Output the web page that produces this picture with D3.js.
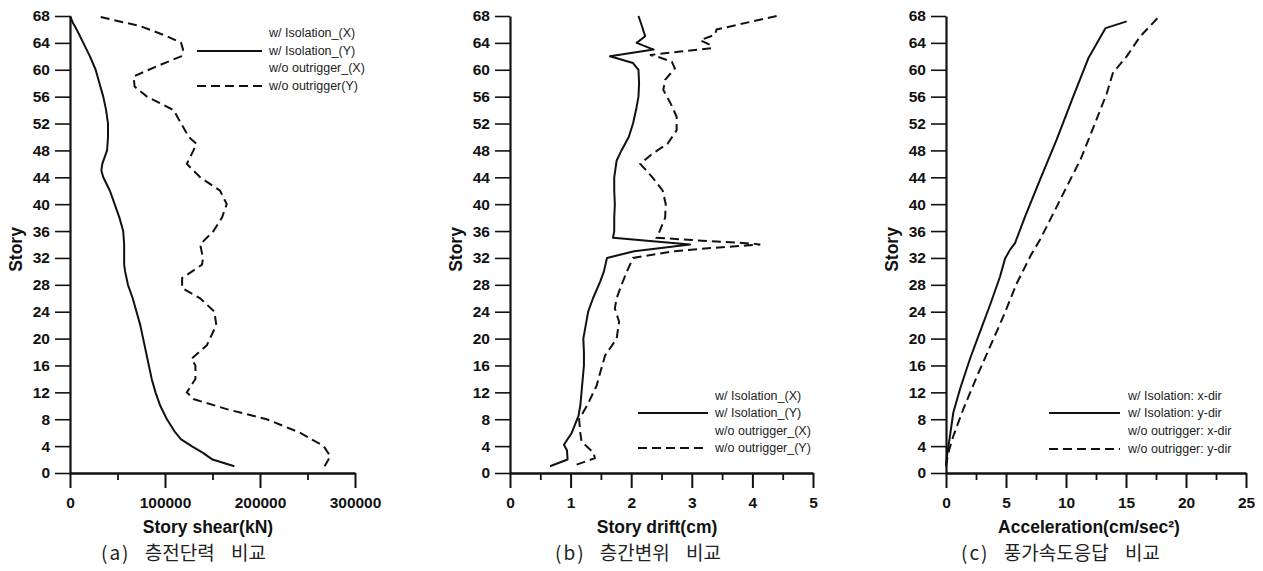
<!DOCTYPE html>
<html>
<head>
<meta charset="utf-8">
<script src="https://cdn.jsdelivr.net/npm/d3@7"></script>
<style>
  html, body { margin: 0; padding: 0; background: #fff; }
  svg { display: block; }
</style>
</head>
<body>
<svg id="chart" width="1263" height="571"></svg>
<script>
// ---------------- DATA ----------------
const storyTicks = [0,4,8,12,16,20,24,28,32,36,40,44,48,52,56,60,64,68];

// (a) Story shear (kN): [story, value]
const shearIsolationY = [[1,173000],[2,150000],[3,140000],[4,128000],[5,117000],[6,111000],[8,102000],[10,95000],[12,90000],[14,86000],[16,83000],[18,80000],[20,77000],[22,74000],[24,70000],[26,66000],[28,61000],[30,58000],[31,57000],[32,57000],[34,57000],[36,56000],[38,52000],[40,47000],[42,42000],[44,35000],[45,33000],[46,34000],[48,39000],[50,40000],[52,40000],[54,38000],[56,35000],[58,31000],[60,27000],[62,21000],[64,14000],[66,7000],[67,3000],[68,0]];
const shearNoOutriggerY = [[1,268000],[2.5,274000],[4,267000],[6,242000],[8,207000],[9.5,165000],[11,130000],[12,123000],[14,132000],[16,132000],[17,128000],[19,144000],[22,154000],[24,152000],[26,137000],[27.5,118000],[29,118000],[31,139000],[32,140000],[34,137000],[36,151000],[38,160000],[40,165000],[42,158000],[44,137000],[46,123000],[48,130000],[49,133000],[50,125000],[52,117000],[54,109000],[56,81000],[57.5,68000],[59,67000],[60.5,91000],[62,117000],[63,119000],[64,117000],[65,102000],[66.5,74000],[67.3,49000],[68,28000]];
const shearTicksMajor = [0,100000,200000,300000];
const shearTicksMinor = [50000,150000,250000];

// (b) Story drift (cm): [story, value]
const driftIsolationY = [[68,2.12],[66.7,2.17],[65,2.23],[64,2.09],[63,2.37],[62,1.65],[61,2.03],[60,2.12],[58,2.13],[56,2.12],[54,2.08],[52,2.03],[50,1.96],[48,1.84],[46.5,1.76],[44,1.72],[42,1.72],[40,1.73],[38,1.72],[36,1.72],[35,1.70],[34,2.97],[33,2.05],[32,1.60],[30,1.55],[28.5,1.49],[26,1.37],[24,1.29],[22,1.25],[20,1.21],[18,1.22],[16,1.22],[14,1.20],[12,1.18],[10,1.16],[8.5,1.13],[6,1.02],[4.2,0.89],[3.4,0.94],[2,0.95],[1,0.66]];
const driftNoOutriggerY = [[68,4.40],[66,3.41],[65.2,3.38],[64.4,3.14],[63.7,3.30],[63.2,3.33],[62.7,2.81],[62.2,2.31],[61.9,2.45],[61.2,2.67],[60.2,2.72],[58.5,2.56],[57,2.53],[55,2.65],[53,2.75],[51,2.75],[49,2.60],[47.5,2.35],[46,2.15],[44,2.35],[42,2.52],[40,2.57],[38,2.56],[36,2.47],[35,2.42],[34.5,3.3],[34.2,3.9],[34,4.13],[33.6,3.5],[33,2.7],[32,2.03],[30,1.93],[28,1.84],[26,1.76],[24.5,1.73],[22.5,1.80],[20,1.76],[17.5,1.57],[15,1.49],[13,1.43],[10,1.27],[8,1.14],[6,1.16],[4.7,1.18],[3,1.38],[2.2,1.40],[1,1.02]];
const driftTicksMajor = [0,1,2,3,4,5];
const driftTicksMinor = [0.5,1.5,2.5,3.5,4.5];

// (c) Acceleration (cm/sec²): [story, value]
const accIsolationY = [[1,0],[3,0.11],[5.5,0.33],[9,0.61],[12.5,1.17],[17,2.0],[21,2.83],[25,3.67],[29.2,4.5],[31.9,4.92],[33.2,5.33],[34.2,5.75],[38.1,6.58],[43.6,7.83],[49.6,9.22],[56,10.6],[61.7,11.86],[66.2,13.3],[67.2,15.06]];
const accNoOutriggerY = [[1,0],[3,0.19],[5.5,0.61],[9.5,1.44],[14.3,2.56],[18.8,3.67],[23.3,4.78],[28.2,5.89],[32.5,7.1],[34.7,7.83],[39.6,9.22],[42.6,10.06],[46.6,11.2],[51.5,12.3],[56.5,13.4],[59.5,13.9],[62,15.06],[65,16.2],[68,17.8]];
const accTicksMajor = [0,5,10,15,20,25];
const accTicksMinor = [2.5,7.5,12.5,17.5,22.5];

const legendA = ["w/ Isolation_(X)","w/ Isolation_(Y)","w/o outrigger_(X)","w/o outrigger(Y)"];
const legendB = ["w/ Isolation_(X)","w/ Isolation_(Y)","w/o outrigger_(X)","w/o outrigger_(Y)"];
const legendC = ["w/ Isolation: x-dir","w/ Isolation: y-dir","w/o outrigger: x-dir","w/o outrigger: y-dir"];

// caption parts: [label, title word, second word]
const captionA = ["(a)","층전단력","비교"];
const captionB = ["(b)","층간변위","비교"];
const captionC = ["(c)","풍가속도응답","비교"];

// ---------------- LAYOUT ----------------
const svg = d3.select("#chart");
const yTop = 16, yBottom = 473;
const y = d3.scaleLinear().domain([0,68]).range([yBottom, yTop]);

const panels = [
  { x0: 70, x1: 355, domain: [0,300000], major: shearTicksMajor, minor: shearTicksMinor,
    solid: shearIsolationY, dashed: shearNoOutriggerY, xTitle: "Story shear(kN)", caption: captionA,
    titleX: 208, captionX: 101, legend: legendA, legX: 269, legLine: [197,262], legY: [33,51,68,86] },
  { x0: 510, x1: 813, domain: [0,5], major: driftTicksMajor, minor: driftTicksMinor,
    solid: driftIsolationY, dashed: driftNoOutriggerY, xTitle: "Story drift(cm)", caption: captionB,
    titleX: 657, captionX: 555, legend: legendB, legX: 715, legLine: [638,708], legY: [396,413,431,448] },
  { x0: 946, x1: 1246, domain: [0,25], major: accTicksMajor, minor: accTicksMinor,
    solid: accIsolationY, dashed: accNoOutriggerY, xTitle: "Acceleration(cm/sec²)", caption: captionC,
    titleX: 1089, captionX: 961, legend: legendC, legX: 1128, legLine: [1049,1120], legY: [396,413,431,449] }
];

const tickFont = "Liberation Sans, Arial, sans-serif";

panels.forEach(p => {
  const x = d3.scaleLinear().domain(p.domain).range([p.x0, p.x1]);
  const g = svg.append("g");

  // lines
  const line = d3.line().x(d => x(d[1])).y(d => y(d[0]));
  g.append("path").datum(p.solid).attr("d", line)
    .attr("fill","none").attr("stroke","#111").attr("stroke-width",2).attr("stroke-linejoin","round");
  g.append("path").datum(p.dashed).attr("d", line)
    .attr("fill","none").attr("stroke","#111").attr("stroke-width",2).attr("stroke-dasharray","9,5");

  // y axis
  const ya = g.append("g").attr("transform", `translate(${p.x0},0)`)
    .call(d3.axisLeft(y).tickValues(storyTicks).tickSize(15).tickSizeOuter(0).tickPadding(5));
  ya.select(".domain").attr("stroke","#111").attr("stroke-width",2.2);
  ya.selectAll(".tick line").attr("stroke","#111").attr("stroke-width",1.6);
  ya.selectAll("text").attr("font-family",tickFont).attr("font-weight","bold").attr("font-size","15.5px").attr("fill","#111");

  // x axis minor
  const xmin = g.append("g").attr("transform", `translate(0,${yBottom})`)
    .call(d3.axisBottom(x).tickValues(p.minor).tickSize(7).tickSizeOuter(0).tickFormat(""));
  xmin.select(".domain").remove();
  xmin.selectAll(".tick line").attr("stroke","#111").attr("stroke-width",1.8);
  // x axis major
  const xa = g.append("g").attr("transform", `translate(0,${yBottom})`)
    .call(d3.axisBottom(x).tickValues(p.major).tickSize(15).tickSizeOuter(0).tickPadding(9).tickFormat(d3.format("d")));
  xa.select(".domain").attr("stroke","#111").attr("stroke-width",2.6);
  xa.selectAll(".tick line").attr("stroke","#111").attr("stroke-width",2);
  xa.selectAll("text").attr("font-family",tickFont).attr("font-weight","bold").attr("font-size","15.5px").attr("fill","#111");

  // titles
  g.append("text").attr("x", p.titleX).attr("y", 533).attr("text-anchor","middle")
    .attr("font-family",tickFont).attr("font-weight","bold").attr("font-size","17.5px").attr("fill","#111")
    .text(p.xTitle);
  g.append("text").attr("transform", `translate(${p.x0-48},${(yTop+yBottom)/2+5}) rotate(-90)`)
    .attr("text-anchor","middle")
    .attr("font-family",tickFont).attr("font-weight","bold").attr("font-size","17.5px").attr("fill","#111")
    .text("Story");
  const cap = g.append("text").attr("x", p.captionX).attr("y", 560)
    .attr("font-family","Noto Sans CJK KR, sans-serif").attr("font-size","19px").attr("fill","#222");
  cap.append("tspan").attr("letter-spacing","2px").text(p.caption[0]);
  cap.append("tspan").attr("dx", 10).text(" " + p.caption[1]);
  cap.append("tspan").attr("dx", 12).text(" " + p.caption[2]);

  // legend
  p.legend.forEach((t,i) => {
    g.append("text").attr("x", p.legX).attr("y", p.legY[i]).attr("dy","0.35em")
      .attr("font-family",tickFont).attr("font-size","12.5px").attr("fill","#222").text(t);
    if (i === 1 || i === 3) {
      g.append("line").attr("x1", p.legLine[0]).attr("x2", p.legLine[1])
        .attr("y1", p.legY[i]).attr("y2", p.legY[i])
        .attr("stroke","#111").attr("stroke-width",2)
        .attr("stroke-dasharray", i === 3 ? "9,5" : null);
    }
  });
});
</script>
</body>
</html>
